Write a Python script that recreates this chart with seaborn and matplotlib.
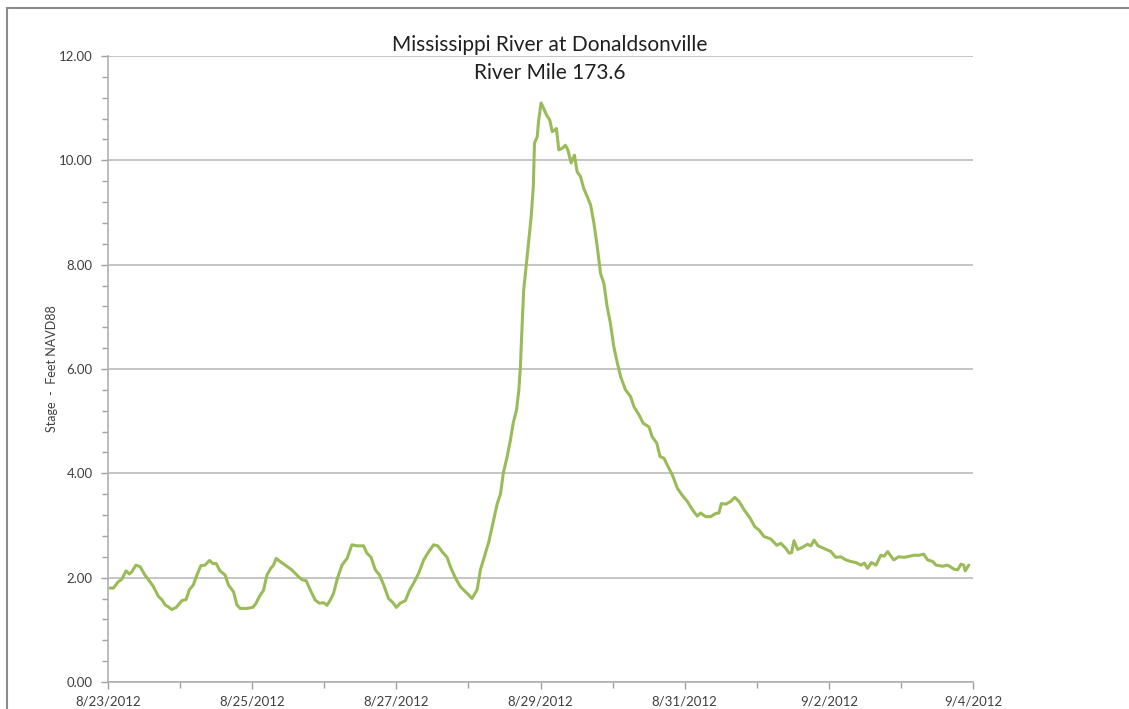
import numpy as np
import pandas as pd
import matplotlib
matplotlib.use('Agg')
import matplotlib.pyplot as plt
import matplotlib.dates as mdates
from matplotlib.ticker import MultipleLocator, FuncFormatter
from matplotlib.patches import Rectangle
import seaborn as sns

# hours after 8/23/2012 00:00 and river stage (ft NAVD88)
hours = [0.7, 1.8, 3.4, 4.6, 6.0, 7.1, 7.9, 9.3, 10.7, 12.3, 14.0, 15.1, 16.8, 17.9, 19.0, 20.1,
         21.2, 22.7, 24.6, 26.0, 27.1, 28.4, 29.6, 30.9, 32.3, 33.8, 34.9, 36.0, 37.3, 39.0, 40.1,
         41.8, 42.9, 44.0, 46.2, 48.2, 49.3, 50.4, 51.8, 52.9, 54.2, 55.1, 56.0, 57.3, 59.0, 61.2,
         63.4, 64.6, 66.0, 67.3, 69.0, 70.4, 71.8, 72.9, 74.0, 75.1, 76.4, 77.9, 79.6, 81.2, 82.9,
         85.1, 86.2, 87.6, 89.0, 90.4, 91.8, 93.4, 94.9, 96.0, 97.3, 99.0, 100.4, 101.8, 103.4,
         105.1, 106.8, 108.4, 109.8, 111.2, 112.9, 114.0, 115.7, 117.3, 119.0, 120.1, 121.2, 122.9,
         124.0, 125.3, 126.8, 128.4, 129.6, 130.7, 131.6, 132.9, 134.0, 134.9, 136.0, 136.8, 137.3,
         137.9, 138.4, 139.2, 140.1, 140.9, 141.6, 142.0, 142.9, 143.4, 144.2, 145.1, 146.0, 147.1,
         147.9, 148.7, 149.3, 150.1, 151.2, 152.3, 153.1, 154.2, 155.3, 156.2, 157.3, 158.4, 159.6,
         160.7, 161.8, 162.9, 164.0, 165.1, 166.2, 167.3, 168.4, 169.6, 170.7, 172.3, 174.0, 175.1,
         176.8, 178.2, 180.1, 181.2, 182.7, 183.8, 185.1, 186.2, 187.9, 189.6, 191.2, 192.9, 194.6,
         196.2, 197.3, 199.0, 200.7, 202.3, 203.4, 204.2, 205.7, 207.3, 208.7, 210.1, 211.8, 213.8,
         215.3, 216.8, 218.4, 220.7, 222.7, 224.0, 225.7, 226.8, 227.6, 228.4, 229.6, 231.2, 232.9,
         234.0, 235.1, 236.4, 238.4, 240.7, 242.3, 244.0, 245.7, 247.3, 249.0, 250.7, 251.8, 252.9,
         254.2, 255.7, 257.3, 258.4, 259.6, 261.6, 263.2, 265.1, 266.8, 268.4, 270.1, 271.6, 272.9,
         274.6, 275.7, 277.9, 279.6, 280.7, 281.8, 282.9, 284.0, 284.9, 285.4, 286.6]
stage = [1.80, 1.80, 1.92, 1.97, 2.13, 2.07, 2.11, 2.24, 2.21, 2.05, 1.92, 1.83, 1.64, 1.58, 1.48, 1.44,
         1.39, 1.43, 1.56, 1.58, 1.77, 1.86, 2.05, 2.23, 2.24, 2.33, 2.27, 2.27, 2.13, 2.05, 1.86,
         1.73, 1.48, 1.41, 1.41, 1.43, 1.51, 1.64, 1.76, 2.05, 2.18, 2.24, 2.37, 2.31, 2.24, 2.15,
         2.02, 1.96, 1.94, 1.77, 1.57, 1.51, 1.52, 1.47, 1.57, 1.70, 1.99, 2.24, 2.37, 2.63, 2.61,
         2.61, 2.47, 2.39, 2.15, 2.05, 1.86, 1.60, 1.52, 1.43, 1.51, 1.56, 1.76, 1.90, 2.08,
         2.34, 2.50, 2.63, 2.61, 2.50, 2.39, 2.21, 1.99, 1.83, 1.73, 1.67, 1.60, 1.77,
         2.15, 2.40, 2.69, 3.11, 3.42, 3.61, 4.00, 4.32, 4.64, 4.96, 5.21, 5.60, 6.04,
         6.87, 7.51, 7.96, 8.47, 8.92, 9.49, 10.33, 10.45, 10.77, 11.10, 10.99, 10.87, 10.77,
         10.55, 10.58, 10.61, 10.20, 10.23, 10.29, 10.20, 9.95, 10.10, 9.78, 9.69, 9.46, 9.30,
         9.14, 8.79, 8.34, 7.83, 7.64, 7.19, 6.87, 6.43, 6.11, 5.85, 5.60, 5.47, 5.28,
         5.12, 4.96, 4.89, 4.70, 4.58, 4.32, 4.29, 4.16, 3.97, 3.71, 3.58, 3.46, 3.30,
         3.18, 3.24, 3.17, 3.17, 3.23, 3.24, 3.42, 3.41, 3.46, 3.54, 3.46, 3.30, 3.14,
         2.98, 2.91, 2.79, 2.74, 2.62, 2.66, 2.56, 2.47, 2.48, 2.71, 2.54, 2.58, 2.64,
         2.61, 2.72, 2.61, 2.56, 2.50, 2.39, 2.40, 2.34, 2.31, 2.29, 2.24, 2.28, 2.18,
         2.29, 2.24, 2.43, 2.41, 2.50, 2.34, 2.40, 2.39, 2.41, 2.43, 2.43, 2.45, 2.34,
         2.31, 2.24, 2.22, 2.24, 2.20, 2.16, 2.15, 2.26, 2.24, 2.13, 2.24]

start = pd.Timestamp('2012-08-23')
end = pd.Timestamp('2012-09-04')
df = pd.DataFrame({'time': start + pd.to_timedelta(hours, unit='h'), 'stage': stage})

sns.set_style('white')
plt.rcParams['font.family'] = ['Lato', 'DejaVu Sans']

fig = plt.figure(figsize=(11.29, 7.09), dpi=100)
ax = fig.add_axes([108/1129, 1-682/709, (973-108)/1129, (682-56)/709])

sns.lineplot(data=df, x='time', y='stage', color='#9BBB59', linewidth=2.2, ax=ax)

ax.set_xlim(start, end)
ax.set_ylim(0, 12)
ax.yaxis.set_major_locator(MultipleLocator(2))
ax.yaxis.set_minor_locator(MultipleLocator(0.4))
ax.yaxis.set_major_formatter(FuncFormatter(lambda v, p: '%.2f' % v))
ax.xaxis.set_major_locator(mdates.DayLocator(interval=2))
ax.xaxis.set_minor_locator(mdates.DayLocator())
ax.xaxis.set_major_formatter(FuncFormatter(
    lambda v, p: '{d.month}/{d.day}/{d.year}'.format(d=mdates.num2date(v))))

ax.grid(axis='y', which='major', color='#c0c0c0', linewidth=1.3)
ax.grid(axis='x', visible=False)
for s in ['top', 'right']:
    ax.spines[s].set_visible(False)
for s in ['left', 'bottom']:
    ax.spines[s].set_color('#b0b0b0')
    ax.spines[s].set_linewidth(1.2)
ax.tick_params(which='both', direction='out', color='#a0a0a0', width=1,
               bottom=True, left=True, top=False, right=False)
ax.tick_params(which='major', length=5, labelsize=9.5, labelcolor='#404040')
ax.tick_params(which='minor', length=4)
ax.tick_params(axis='y', pad=6)
ax.tick_params(axis='x', pad=5)

ax.set_xlabel('')
ax.set_ylabel('Stage  -  Feet NAVD88', fontsize=9, color='#404040', labelpad=1)

fig.text(550/1129, 1-45/709, 'Mississippi River at Donaldsonville', ha='center', va='center',
         fontsize=15, color='#202020')
fig.text(550/1129, 1-73/709, 'River Mile 173.6', ha='center', va='center',
         fontsize=15, color='#202020')

fig.patches.append(Rectangle((7/1129, -0.5), 1.5, 0.5 + 1 - 8/709, transform=fig.transFigure,
                             fill=False, edgecolor='#8c8c8c', linewidth=1.5))

fig.savefig('out.png', dpi=100)
